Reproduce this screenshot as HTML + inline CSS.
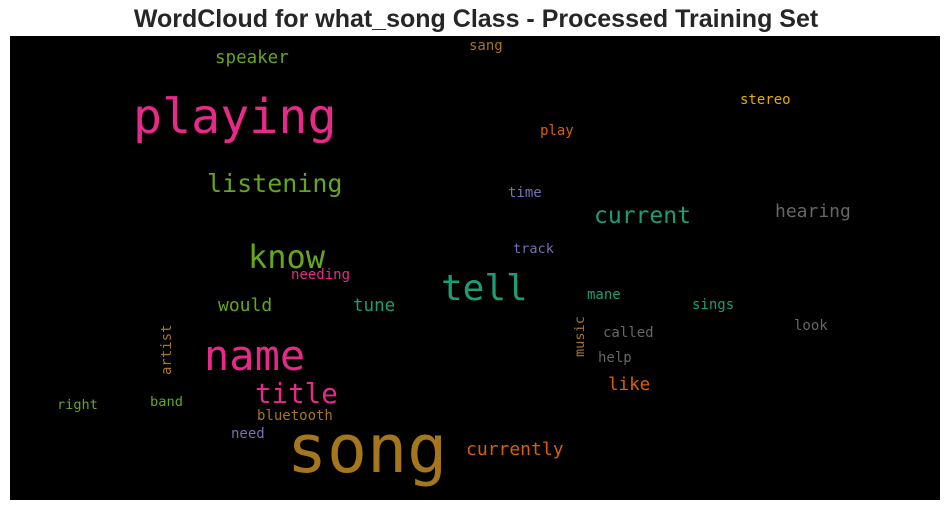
<!DOCTYPE html>
<html><head><meta charset="utf-8"><style>
html,body{margin:0;padding:0;background:#fff;width:950px;height:511px;overflow:hidden}
svg text.w{font-family:"DejaVu Sans Mono","Liberation Mono",monospace}
</style></head><body>
<svg id="chart" width="950" height="511">
<text x="476" y="27" text-anchor="middle" font-family="Liberation Sans, sans-serif" font-weight="bold" font-size="25" fill="#262626">WordCloud for what_song Class - Processed Training Set</text>
<rect x="10" y="36" width="930" height="464" fill="#000"/>
<g id="words"></g>
</svg>
<script>
const words = ["playing","speaker","listening","know","needing","would","tune","name","artist","title","right","band","bluetooth","need","song","tell","current","currently","hearing","stereo","play","sang","time","track","mane","sings","look","called","help","music","like"];
const sizes = [48.3,17.5,25,32,14,18,17.5,42,14,27.5,13.6,13.7,14,14,66.5,36,23,18,18,14,14,14,14,13.6,14,14,14,14,14,13.6,17.5];
const colors = ["#e7298a","#66a61e","#66a61e","#66a61e","#e7298a","#66a61e","#1b9e77","#e7298a","#a6761d","#e7298a","#66a61e","#66a61e","#a6761d","#7570b3","#a6761d","#1b9e77","#1b9e77","#d95f02","#666666","#e6ab02","#d95f02","#a6761d","#7570b3","#7570b3","#1b9e77","#1b9e77","#666666","#666666","#666666","#a6761d","#d95f02"];
const layoutX = [133,215,207,248,291,218,353,204,171,255,57,150,257,231,287,441,594,466,775,740,540,469,508,513,587,692,794,603,598,584,608];
const layoutY = [133,63,192,268,279,311,311,370,375,403,409,406,420,438,472,300,223,455,217,104,135,50,197,253,299,309,330,337,362,357,390];
const vertical = [8,29];
const g = document.getElementById('words');
words.forEach((w,i)=>{
  const t = document.createElementNS('http://www.w3.org/2000/svg','text');
  t.setAttribute('class','w');
  t.setAttribute('font-size', sizes[i]);
  t.setAttribute('fill', colors[i]);
  if (vertical.includes(i)) {
    t.setAttribute('transform','translate('+layoutX[i]+','+layoutY[i]+') rotate(-90)');
  } else {
    t.setAttribute('x', layoutX[i]);
    t.setAttribute('y', layoutY[i]);
  }
  t.textContent = w;
  
  
  g.appendChild(t);
});
</script>
</body></html>
